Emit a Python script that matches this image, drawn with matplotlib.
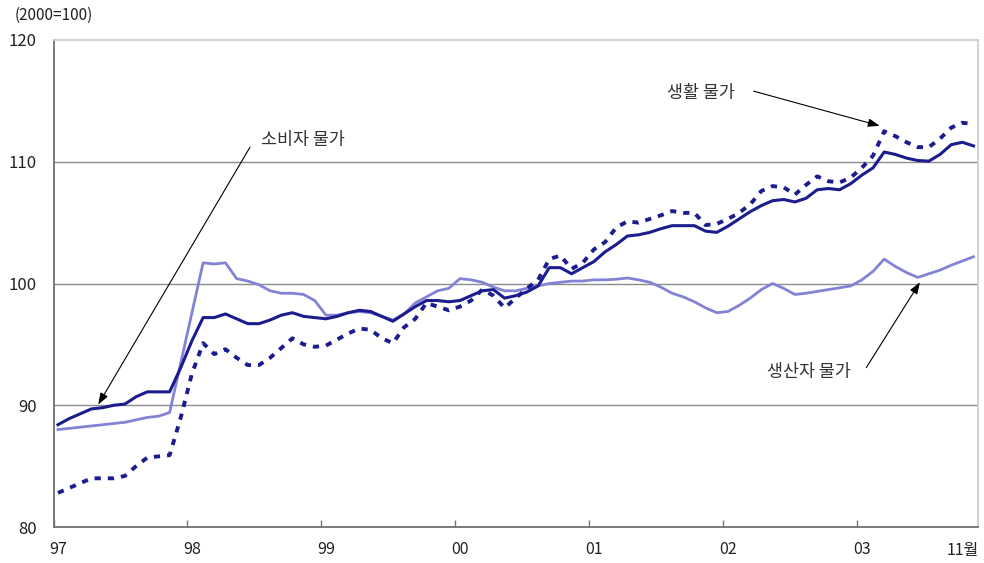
import matplotlib
matplotlib.use("Agg")
import matplotlib.pyplot as plt
from matplotlib.transforms import ScaledTranslation
import numpy as np

plt.rcParams['font.family'] = ['Noto Sans CJK KR', 'DejaVu Sans']

# Monthly index values, Jan 1997 .. Nov 2003 (2000=100)
consumer = [88.4, 88.9, 89.3, 89.7, 89.8, 90.0, 90.1, 90.7, 91.1, 91.1, 91.1, 93.1,
            95.3, 97.2, 97.2, 97.5, 97.1, 96.7, 96.7, 97.0, 97.4, 97.6, 97.3, 97.2,
            97.1, 97.3, 97.6, 97.8, 97.7, 97.3, 96.9, 97.5, 98.1, 98.6, 98.6, 98.5,
            98.6, 99.0, 99.4, 99.5, 98.8, 99.0, 99.3, 99.8, 101.3, 101.3, 100.8, 101.3,
            101.8, 102.6, 103.2, 103.9, 104.0, 104.2, 104.5, 104.75, 104.75, 104.75, 104.3, 104.2,
            104.7, 105.3, 105.9, 106.4, 106.8, 106.9, 106.7, 107.0, 107.7, 107.8, 107.7, 108.2,
            108.9, 109.5, 110.8, 110.6, 110.3, 110.1, 110.05, 110.6, 111.4, 111.6, 111.3]

living = [82.8, 83.2, 83.6, 84.0, 84.0, 84.0, 84.2, 85.0, 85.7, 85.8, 85.9, 89.0,
          92.6, 95.1, 94.2, 94.6, 93.9, 93.3, 93.3, 93.9, 94.7, 95.5, 95.0, 94.8,
          94.9, 95.4, 95.9, 96.3, 96.2, 95.5, 95.1, 96.4, 97.1, 98.4, 98.1, 97.8,
          98.1, 98.6, 99.5, 99.0, 98.0, 98.8, 99.6, 100.3, 102.0, 102.3, 101.2, 101.7,
          102.8, 103.4, 104.6, 105.1, 105.0, 105.3, 105.6, 105.95, 105.8, 105.8, 104.8, 104.9,
          105.3, 105.8, 106.5, 107.6, 108.0, 107.9, 107.3, 108.1, 108.8, 108.4, 108.3, 108.7,
          109.5, 110.5, 112.5, 112.1, 111.6, 111.2, 111.2, 111.9, 112.8, 113.2, 113.1]

producer = [88.0, 88.1, 88.2, 88.3, 88.4, 88.5, 88.6, 88.8, 89.0, 89.1, 89.4, 93.5,
            97.6, 101.7, 101.6, 101.7, 100.4, 100.2, 99.9, 99.4, 99.2, 99.2, 99.1, 98.6,
            97.4, 97.4, 97.6, 97.7, 97.6, 97.3, 97.0, 97.5, 98.4, 98.9, 99.4, 99.6,
            100.4, 100.3, 100.1, 99.7, 99.4, 99.4, 99.6, 99.8, 100.0, 100.1, 100.2, 100.2,
            100.3, 100.3, 100.35, 100.45, 100.3, 100.1, 99.7, 99.2, 98.9, 98.5, 98.0, 97.6,
            97.7, 98.2, 98.8, 99.5, 100.0, 99.6, 99.1, 99.2, 99.35, 99.5, 99.65, 99.8,
            100.3, 101.0, 102.0, 101.4, 100.9, 100.5, 100.8, 101.1, 101.5, 101.85, 102.2]

year_labels = ['97', '98', '99', '00', '01', '02', '03', '11월']
y_ticks = [80, 90, 100, 110, 120]
label_consumer = '소비자 물가'
label_living = '생활 물가'
label_producer = '생산자 물가'
unit_text = '(2000=100)'

dark = '#1c1c8e'
light = '#8383d6'

fig = plt.figure(figsize=(9.84, 5.63), dpi=100)
ax = fig.add_axes([53.5/984, 36/563, (978-53.5)/984, (527-40)/563])

x = np.arange(len(consumer)) + 0.4
ax.plot(x, producer, color=light, lw=2.0, solid_joinstyle='round', zorder=3)
ax.plot(x, consumer, color=dark, lw=2.2, solid_joinstyle='round', zorder=4)
ax.plot(x, living, color=dark, lw=2.8, linestyle=(0, (1.6, 1.8)), zorder=5)

ax.set_xlim(0, 82.8)
ax.set_ylim(80, 120)

for v in [90, 100, 110]:
    ax.axhline(v, color='#8c8c8c', lw=1.0, zorder=1)

tick_pos = [12*k for k in range(7)]
ax.set_xticks(tick_pos)
ax.set_xticklabels([])
label_pos = tick_pos + [81.4]
off = ScaledTranslation(5/100, 0, fig.dpi_scale_trans)
for p, lab in zip(label_pos, year_labels):
    t = ax.text(p, -23/487, lab, transform=ax.get_xaxis_transform(), ha='center', va='center',
                fontsize=11.5, color='#222222')
    if lab != year_labels[-1]:
        t.set_transform(ax.get_xaxis_transform() + off)
ax.tick_params(axis='x', direction='in', length=5, width=1, color='#777777')

ax.set_yticks(y_ticks)
ax.set_yticklabels([str(v) for v in y_ticks], fontsize=12, color='#222222')
ax.tick_params(axis='y', length=0, pad=12)

for s in ['left', 'bottom']:
    ax.spines[s].set_color('#707070')
    ax.spines[s].set_linewidth(1.3)
for s in ['top', 'right']:
    ax.spines[s].set_color('#cfcfcf')
    ax.spines[s].set_linewidth(1.3)

arrow_kw = dict(arrowstyle='-|>,head_length=0.7,head_width=0.25', color='black', lw=0.8,
                shrinkA=0, shrinkB=0)
ax.text(22.3, 111.8, label_consumer, ha='center', va='center', fontsize=12.5, color='#333333')
ax.annotate('', xy=(4.0, 90.05), xytext=(17.6, 111.2), arrowprops=arrow_kw)

ax.text(58.0, 115.65, label_living, ha='center', va='center', fontsize=12.5, color='#333333')
ax.annotate('', xy=(74.0, 112.95), xytext=(62.7, 115.8), arrowprops=arrow_kw)

ax.text(67.7, 92.7, label_producer, ha='center', va='center', fontsize=12.5, color='#333333')
ax.annotate('', xy=(77.6, 100.1), xytext=(72.8, 93.1), arrowprops=arrow_kw)

fig.text(15/984, 1 - 15/563, unit_text, ha='left', va='center', fontsize=11, color='#222222')

fig.savefig('out.png', dpi=100)
